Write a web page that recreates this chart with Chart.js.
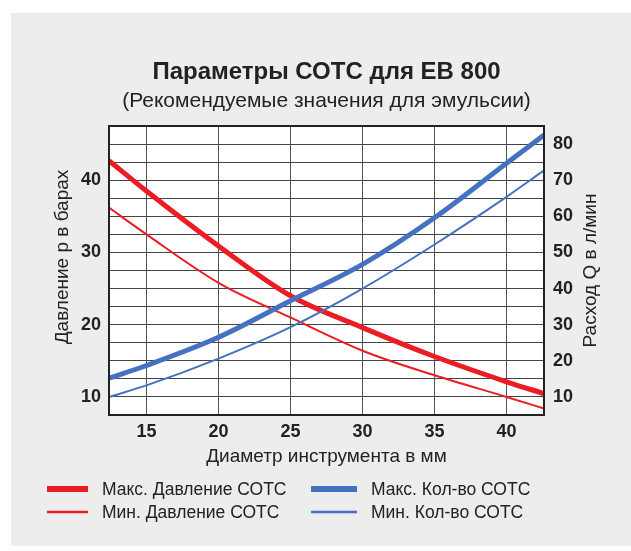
<!DOCTYPE html>
<html>
<head>
<meta charset="utf-8">
<script src="https://cdn.jsdelivr.net/npm/chart.js@4.4.1/dist/chart.umd.min.js"></script>
<style>
  html, body { margin: 0; padding: 0; background: #ffffff; }
  #panel { position: absolute; left: 11px; top: 13px; width: 620px; height: 533px; background: #ededed; }
  canvas { display: block; }
</style>
</head>
<body>
<div id="panel"><canvas id="chart" width="620" height="533"></canvas></div>
<script>
// diameter in mm
const diameters = [12.4, 15, 20, 25, 30, 35, 40, 42.6];
// pressure, bar (left axis)
const maxPressure = [42.7, 38.5, 30.9, 24.0, 19.6, 15.6, 12.1, 10.45];
const minPressure = [36.2, 32.5, 25.8, 21.0, 16.4, 13.0, 10.0, 8.4];
// flow, l/min (right axis)
const maxFlow = [15.2, 18.7, 26.5, 36.6, 46.7, 59.6, 74.7, 82.5];
const minFlow = [10.0, 13.2, 20.6, 29.3, 40.0, 52.2, 65.4, 72.7];

const xTicks = [15, 20, 25, 30, 35, 40];
const pressureTicks = [10, 20, 30, 40];
const pressureGrid = [7.5, 10, 12.5, 15, 17.5, 20, 22.5, 25, 27.5, 30, 32.5, 35, 37.5, 40, 42.5, 45, 47.5];
const flowTicks = [10, 20, 30, 40, 50, 60, 70, 80];

const RED = '#ec1c24';
const BLUE = '#4572c0';
const FONT = "'Liberation Sans', Arial, sans-serif";

function points(ys) {
    return diameters.map((d, i) => ({ x: d, y: ys[i] }));
}

const panelPlugin = {
    id: 'panel',
    beforeDraw(chart) {
        const { ctx, chartArea: a } = chart;
        ctx.save();
        ctx.fillStyle = '#ffffff';
        ctx.fillRect(a.left, a.top, a.right - a.left, a.bottom - a.top);
        ctx.restore();
    },
    afterDraw(chart) {
        const { ctx, chartArea: a } = chart;
        ctx.save();
        // frame
        ctx.strokeStyle = '#222222';
        ctx.lineWidth = 2;
        ctx.strokeRect(a.left, a.top, a.right - a.left, a.bottom - a.top);

        // axis titles, both read bottom to top
        ctx.fillStyle = '#222222';
        ctx.font = '19px ' + FONT;
        ctx.textAlign = 'center';
        ctx.textBaseline = 'middle';
        ctx.translate(52, 244);
        ctx.rotate(-Math.PI / 2);
        ctx.fillText('Давление р в барах', 0, 0);
        ctx.restore();

        ctx.save();
        ctx.fillStyle = '#222222';
        ctx.font = '19px ' + FONT;
        ctx.textAlign = 'center';
        ctx.textBaseline = 'middle';
        ctx.translate(580, (a.top + a.bottom) / 2);
        ctx.rotate(-Math.PI / 2);
        ctx.fillText('Расход Q в л/мин', 0, 0);
        ctx.restore();

        // legend in two columns
        const colLine = [[36, 77], [300, 346]];
        const colText = [91, 360];
        const rowY = [476, 499];
        ctx.save();
        ctx.font = '17.5px ' + FONT;
        ctx.textAlign = 'left';
        ctx.textBaseline = 'middle';
        chart.data.datasets.forEach((ds, i) => {
            const col = Math.floor(i / 2), row = i % 2;
            ctx.strokeStyle = ds.borderColor;
            ctx.lineWidth = ds.borderWidth > 3 ? 6 : 2.5;
            ctx.beginPath();
            ctx.moveTo(colLine[col][0], rowY[row]);
            ctx.lineTo(colLine[col][1], rowY[row]);
            ctx.stroke();
            ctx.fillStyle = '#222222';
            ctx.fillText(ds.label, colText[col], rowY[row] + 1);
        });
        ctx.restore();
    }
};

new Chart(document.getElementById('chart'), {
    type: 'line',
    data: {
        datasets: [
            { label: 'Макс. Давление СОТС', data: points(maxPressure), yAxisID: 'p',
              borderColor: RED, borderWidth: 5, order: 2 },
            { label: 'Мин. Давление СОТС', data: points(minPressure), yAxisID: 'p',
              borderColor: RED, borderWidth: 2, order: 3 },
            { label: 'Макс. Кол-во СОТС', data: points(maxFlow), yAxisID: 'q',
              borderColor: BLUE, borderWidth: 5, order: 0 },
            { label: 'Мин. Кол-во СОТС', data: points(minFlow), yAxisID: 'q',
              borderColor: BLUE, borderWidth: 2, order: 1 }
        ]
    },
    options: {
        responsive: false,
        animation: false,
        events: [],
        layout: { padding: { top: 0, left: 0, right: 0, bottom: 71 } },
        elements: {
            point: { radius: 0 },
            line: { cubicInterpolationMode: 'monotone', borderCapStyle: 'butt' }
        },
        plugins: {
            legend: { display: false },
            tooltip: { enabled: false },
            title: {
                display: true,
                fullSize: false,
                text: 'Параметры СОТС для ЕВ 800',
                color: '#222222',
                font: { family: FONT, size: 24, weight: 'bold' },
                padding: { top: 44.6, bottom: 0 }
            },
            subtitle: {
                display: true,
                fullSize: false,
                text: '(Рекомендуемые значения для эмульсии)',
                color: '#222222',
                font: { family: FONT, size: 21 },
                padding: { top: 2, bottom: 12.4 }
            }
        },
        scales: {
            x: {
                type: 'linear',
                min: 12.4,
                max: 42.6,
                afterBuildTicks: s => { s.ticks = xTicks.map(v => ({ value: v })); },
                afterFit: s => { s.height = 60; },
                grid: { color: '#555555', lineWidth: 1, drawTicks: false },
                border: { display: false },
                ticks: { color: '#222222', padding: 6, autoSkip: false, font: { family: FONT, size: 18, weight: 'bold' } },
                title: {
                    display: true,
                    text: 'Диаметр инструмента в мм',
                    color: '#222222',
                    font: { family: FONT, size: 19 },
                    padding: { top: 0, bottom: 6.6 }
                }
            },
            p: {
                type: 'linear',
                position: 'left',
                min: 7.5,
                max: 47.5,
                afterBuildTicks: s => { s.ticks = pressureGrid.map(v => ({ value: v })); },
                ticks: {
                    color: '#222222',
                    padding: 8,
                    autoSkip: false,
                    font: { family: FONT, size: 18, weight: 'bold' },
                    callback: v => pressureTicks.includes(v) ? String(v) : ''
                },
                afterFit: s => { s.width = 98; },
                grid: { color: '#444444', lineWidth: 1, drawTicks: false },
                border: { display: false }
            },
            q: {
                type: 'linear',
                position: 'right',
                min: 5,
                max: 85,
                afterBuildTicks: s => { s.ticks = flowTicks.map(v => ({ value: v })); },
                afterFit: s => { s.width = 87; },
                grid: { display: false, drawTicks: false },
                border: { display: false },
                ticks: { color: '#222222', padding: 9, autoSkip: false, font: { family: FONT, size: 18, weight: 'bold' } }
            }
        }
    },
    plugins: [panelPlugin]
});
</script>
</body>
</html>
